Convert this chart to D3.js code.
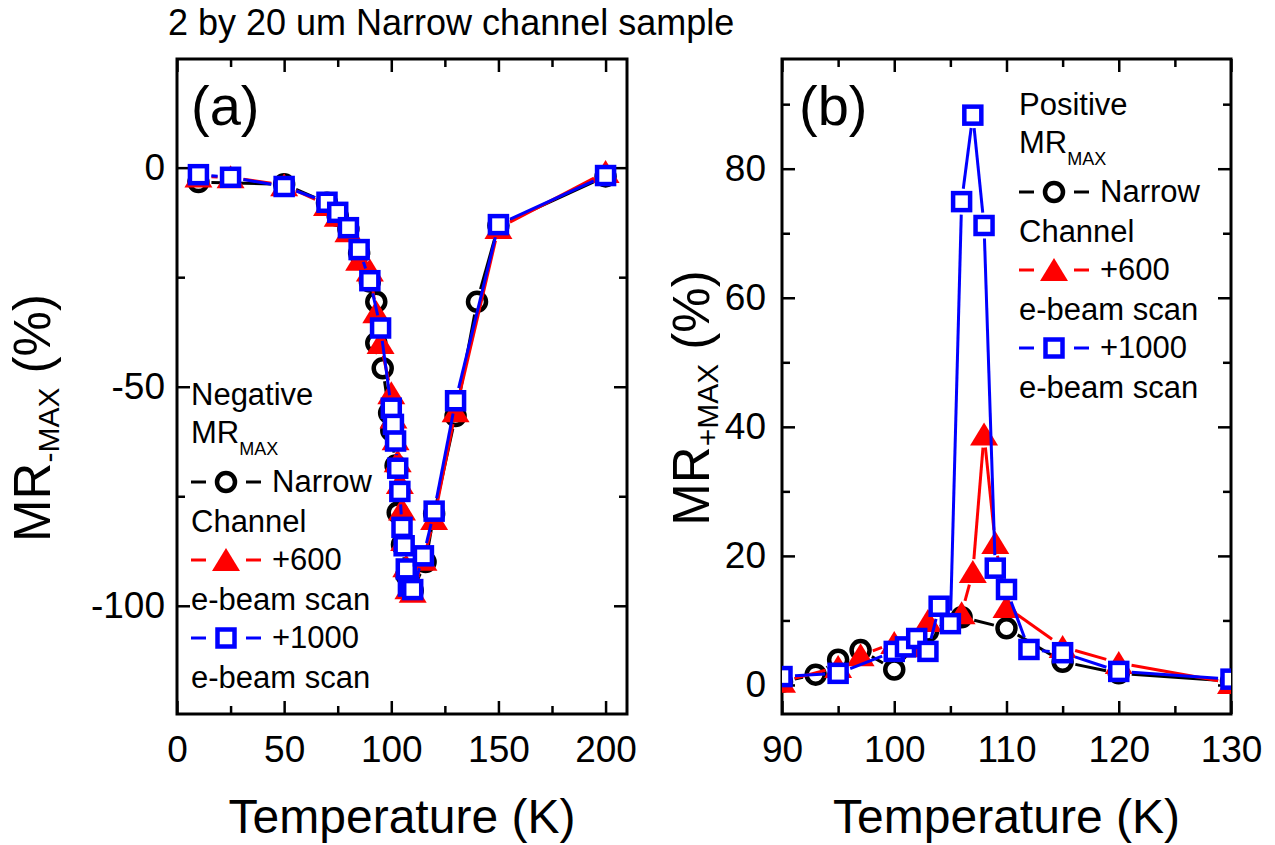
<!DOCTYPE html>
<html><head><meta charset="utf-8">
<script src="https://cdn.jsdelivr.net/npm/d3@7"></script>
<style>
body{margin:0;background:#fff}
svg text{font-family:"Liberation Sans",Arial,sans-serif;fill:#000}
</style>
</head><body>
<svg id="c" width="1275" height="845"></svg>
<script>
// ---------- Panel (a): negative MR max ----------
const tempA_narrow = [10, 50, 70, 75, 80, 85, 90, 93, 93, 96, 99, 100, 102, 103, 105, 107, 110, 116, 120, 130, 140, 150, 200];
const mrA_narrow   = [-3.3, -3.8, -8, -11, -14, -19.5, -26, -30.6, -40, -45.8, -56, -60, -68, -78.7, -86, -93, -96.5, -90, -79, -56.7, -30.6, -13.2, -2];
const tempA_600 = [10, 25, 50, 70, 75, 80, 85, 90, 93, 95, 100, 101, 102, 103, 104, 105, 106, 107, 108, 110, 115, 120, 130, 150, 200];
const mrA_600   = [-2, -2.2, -4, -8.5, -11, -14.5, -21, -23.5, -33, -40, -51.5, -57, -62, -67, -72, -78, -85, -91, -96, -96.8, -89.5, -80.2, -55.6, -13.8, -1];
const tempA_1000 = [10, 25, 50, 70, 75, 80, 85, 90, 95, 100, 101, 102, 103, 104, 105, 106, 107, 108, 110, 115, 120, 130, 150, 200];
const mrA_1000   = [-1.6, -2.2, -4.3, -7.9, -10.2, -13.7, -18.7, -25.8, -36.6, -54.9, -58.6, -62.4, -68.6, -73.9, -82.1, -86.3, -91.6, -95.5, -96.3, -88.6, -78.4, -53.2, -13, -1.8];

// ---------- Panel (b): positive MR max ----------
const tempB_narrow = [90, 93, 95, 97, 100, 103, 106, 110, 115, 120, 130];
const mrB_narrow   = [0.5, 1.6, 3.9, 5.4, 2.4, 8.3, 10.5, 8.8, 3.6, 1.8, 0.6];
const tempB_600 = [90, 95, 97, 100, 102, 103, 106, 107, 108, 109, 110, 115, 120, 130];
const mrB_600   = [0.5, 2.8, 4.6, 6.5, 6.0, 9.9, 11.1, 17.5, 38.8, 22, 12.1, 5.9, 3.4, 0.3];
const tempB_1000 = [90, 95, 100, 101, 102, 103, 104, 105, 106, 107, 108, 109, 110, 112, 115, 120, 130];
const mrB_1000   = [1.3, 1.8, 5.2, 5.9, 7.2, 5.2, 12.2, 9.5, 74.9, 88.3, 71.2, 18.1, 14.8, 5.5, 5.0, 2.1, 0.9];

// ---------- ticks / labels ----------
const xTicksA = [0, 50, 100, 150, 200];
const xMinorA = [25, 75, 125, 175];
const yTicksA = [-100, -50, 0];
const yMinorA = [-75, -25];
const xTicksB = [90, 100, 110, 120, 130];
const xMinorB = [95, 105, 115, 125];
const yTicksB = [0, 20, 40, 60, 80];
const yMinorB = [10, 30, 50, 70, 90];

const legendLinesA = ["Negative", "MR", "Narrow", "Channel", "+600", "e-beam scan", "+1000", "e-beam scan"];
const legendLinesB = ["Positive", "MR", "Narrow", "Channel", "+600", "e-beam scan", "+1000", "e-beam scan"];

const BLACK = "#000000", RED = "#ff0000", BLUE = "#0000ff";

const svg = d3.select("#c");

const xA = d3.scaleLinear().domain([0, 210]).range([177, 627]);
const yA = d3.scaleLinear().domain([-124.7, 24.8]).range([714, 59]);
const xB = d3.scaleLinear().domain([90, 130]).range([782, 1231]);
const yB = d3.scaleLinear().domain([-4.5, 97]).range([714, 59]);

svg.append("text").attr("x", 168).attr("y", 35).attr("font-size", 36)
  .text("2 by 20 um Narrow channel sample");

function frame(x, y, labelPadX, labelPadY) {
  const g = svg.append("g");
  const [x0, x1] = x.range(), [y0, y1] = y.range();
  const fmt = d => String(d);
  const style = sel => {
    sel.select(".domain").remove();
    sel.selectAll("line").attr("stroke", "#000").attr("stroke-width", 2.5);
    sel.selectAll("text").attr("font-size", 37).attr("font-family", '"Liberation Sans",Arial,sans-serif').attr("fill", "#000");
  };
  const mk = (axisFn, scale, ticks, minor, transform, labels) => {
    const gm = g.append("g").attr("transform", transform)
      .call(axisFn(scale).tickValues(ticks).tickSizeInner(-13).tickSizeOuter(0)
        .tickPadding(labels ? (axisFn === d3.axisBottom ? labelPadX : labelPadY) : 0)
        .tickFormat(labels ? fmt : () => ""));
    style(gm);
    const gn = g.append("g").attr("transform", transform)
      .call(axisFn(scale).tickValues(minor).tickSizeInner(-8).tickSizeOuter(0).tickFormat(() => ""));
    style(gn);
  };
  mk(d3.axisBottom, x, x.ticksMajor, x.ticksMinor, `translate(0,${y0})`, true);
  mk(d3.axisTop, x, x.ticksMajor, x.ticksMinor, `translate(0,${y1})`, false);
  mk(d3.axisLeft, y, y.ticksMajor, y.ticksMinor, `translate(${x0},0)`, true);
  mk(d3.axisRight, y, y.ticksMajor, y.ticksMinor, `translate(${x1},0)`, false);
  g.append("rect").attr("x", x0).attr("y", y1).attr("width", x1 - x0).attr("height", y0 - y1)
    .attr("fill", "none").attr("stroke", "#000").attr("stroke-width", 3);
}
xA.ticksMajor = xTicksA; xA.ticksMinor = xMinorA;
yA.ticksMajor = yTicksA; yA.ticksMinor = yMinorA;
xB.ticksMajor = xTicksB; xB.ticksMinor = xMinorB;
yB.ticksMajor = yTicksB; yB.ticksMinor = yMinorB;

frame(xA, yA, 22, 12);
frame(xB, yB, 22, 16);

// markers
function marker(g, type, cx, cy) {
  if (type === "circle") {
    g.append("circle").attr("cx", cx).attr("cy", cy).attr("r", 9)
      .attr("fill", "#fff").attr("stroke", BLACK).attr("stroke-width", 4.5);
  } else if (type === "triangle") {
    g.append("path").attr("transform", `translate(${cx},${cy})`)
      .attr("d", "M0,-12L14,11L-14,11Z").attr("fill", RED);
  } else {
    g.append("rect").attr("x", cx - 8.5).attr("y", cy - 8.5).attr("width", 17).attr("height", 17)
      .attr("fill", "#fff").attr("stroke", BLUE).attr("stroke-width", 4.5);
  }
}

function series(x, y, ts, vs, color, type, clipId) {
  const g = svg.append("g").attr("clip-path", `url(#${clipId})`);
  const gap = 13;
  const pts = ts.map((t, i) => [x(t), y(vs[i])]);
  for (let i = 0; i < pts.length - 1; i++) {
    const [ax, ay] = pts[i], [bx, by] = pts[i + 1];
    const d = Math.hypot(bx - ax, by - ay);
    if (d <= 2 * gap) continue;
    const ux = (bx - ax) / d, uy = (by - ay) / d;
    g.append("line")
      .attr("x1", ax + ux * gap).attr("y1", ay + uy * gap)
      .attr("x2", bx - ux * gap).attr("y2", by - uy * gap)
      .attr("stroke", color).attr("stroke-width", 3);
  }
  pts.forEach(([px, py]) => marker(g, type, px, py));
}

const defs = svg.append("defs");
defs.append("clipPath").attr("id", "clipA").append("rect")
  .attr("x", 177).attr("y", 59).attr("width", 450).attr("height", 655);
defs.append("clipPath").attr("id", "clipB").append("rect")
  .attr("x", 782).attr("y", 59).attr("width", 449).attr("height", 655);

series(xA, yA, tempA_narrow, mrA_narrow, BLACK, "circle", "clipA");
series(xA, yA, tempA_600, mrA_600, RED, "triangle", "clipA");
series(xA, yA, tempA_1000, mrA_1000, BLUE, "square", "clipA");

series(xB, yB, tempB_narrow, mrB_narrow, BLACK, "circle", "clipB");
series(xB, yB, tempB_600, mrB_600, RED, "triangle", "clipB");
series(xB, yB, tempB_1000, mrB_1000, BLUE, "square", "clipB");

// panel letters
svg.append("text").attr("x", 191).attr("y", 125).attr("font-size", 56).text("(a)");
svg.append("text").attr("x", 799).attr("y", 125).attr("font-size", 56).text("(b)");

// axis titles
function xTitle(cx) {
  svg.append("text").attr("x", cx).attr("y", 833).attr("text-anchor", "middle")
    .attr("font-size", 48).text("Temperature (K)");
}
xTitle((177 + 627) / 2);
xTitle((782 + 1231) / 2);

function yTitle(bx, cy, sub) {
  const t = svg.append("text").attr("transform", `translate(${bx},${cy}) rotate(-90)`)
    .attr("text-anchor", "middle").attr("font-size", 51);
  t.append("tspan").text("MR");
  t.append("tspan").attr("font-size", 30).attr("dy", 9).text(sub);
  t.append("tspan").attr("dy", -9).text(" (%)");
}
yTitle(50, 418, "-MAX");
yTitle(709, 398, "+MAX");

// legends
function legend(x0, base, lines) {
  const offs = [0, 38, 87, 127, 165, 205, 243, 283];
  const fs = 31;
  const types = { 2: ["circle", BLACK], 4: ["triangle", RED], 6: ["square", BLUE] };
  lines.forEach((s, i) => {
    const yy = base + offs[i];
    if (types[i]) {
      const [type, col] = types[i];
      const g = svg.append("g");
      const cy = yy - 10;
      g.append("line").attr("x1", x0).attr("x2", x0 + 15).attr("y1", cy).attr("y2", cy)
        .attr("stroke", col).attr("stroke-width", 3);
      g.append("line").attr("x1", x0 + 55).attr("x2", x0 + 70).attr("y1", cy).attr("y2", cy)
        .attr("stroke", col).attr("stroke-width", 3);
      marker(g, type, x0 + 35, cy);
      svg.append("text").attr("x", x0 + 81).attr("y", yy).attr("font-size", fs).text(s);
    } else if (i === 1) {
      const t = svg.append("text").attr("x", x0).attr("y", yy).attr("font-size", fs);
      t.append("tspan").text(s);
      t.append("tspan").attr("font-size", 18).attr("dy", 12).text("MAX");
    } else {
      svg.append("text").attr("x", x0).attr("y", yy).attr("font-size", fs).text(s);
    }
  });
}
legend(191, 405, legendLinesA);
legend(1019, 115, legendLinesB);
</script>
</body></html>
